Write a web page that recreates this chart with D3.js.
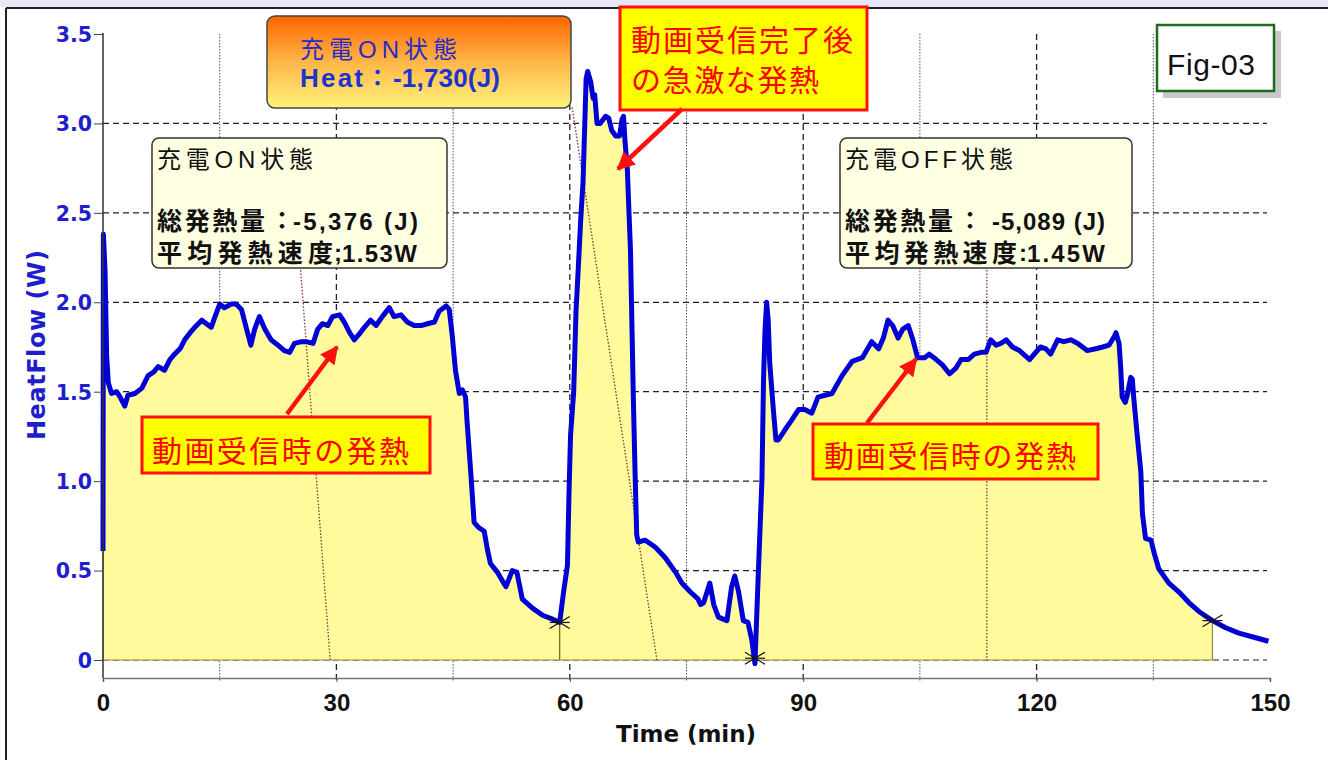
<!DOCTYPE html>
<html>
<head>
<meta charset="utf-8">
<script src="https://cdn.jsdelivr.net/npm/d3@7"></script>
<style>
  body { margin: 0; background: #fff; }
  svg { display: block; }
</style>
</head>
<body>
<svg id="chart" width="1328" height="760"></svg>
<script>
// ===== data =====
const timeMin = [
  0, 0.05, 0.26, 0.47, 0.68, 1.1, 1.75, 2.2, 2.8, 3.2, 4.1, 5.0, 5.8, 6.5, 7.1, 7.9, 8.6, 9.2, 9.9,
  10.5, 11.2, 11.8, 12.7, 13.3, 13.9, 14.4, 15.0, 15.6, 16.5, 17.1, 17.8, 18.4, 19.0, 19.5, 20.1,
  20.8, 21.6, 22.5, 23.3, 24.0, 24.6, 25.5, 26.1, 27.0, 27.6, 28.2, 28.9, 29.5, 30.4, 31.0, 31.7,
  32.3, 32.9, 33.6, 34.4, 35.1, 35.9, 36.8, 37.4, 38.3, 39.1, 40.0, 40.9, 41.7, 42.6, 43.2, 44.1,
  44.5, 44.9, 45.3, 45.8, 46.2, 46.6, 46.8, 47.3, 47.7, 48.3, 49.0, 49.4, 49.8, 50.7, 51.5, 51.8,
  52.6, 53.2, 53.9, 55.2, 56.5, 57.7, 58.7, 59.2, 59.7, 59.9, 60.1, 60.5, 60.8, 61.1, 61.4, 61.7,
  61.9, 62.1, 62.3, 62.7, 63.0, 63.2, 63.5, 63.9, 64.6, 65.0, 65.4, 65.9, 66.4, 66.7, 66.9, 67.1,
  67.4, 67.6, 67.8, 68.0, 68.2, 68.4, 68.6, 68.8, 69.7, 71.0, 72.3, 73.6, 74.4, 75.5, 76.5, 76.8,
  77.2, 78.0, 78.5, 79.1, 80.2, 80.8, 81.2, 81.7, 82.3, 82.9, 83.4, 83.8, 84.2, 84.7, 84.9, 85.1,
  85.3, 85.5, 85.7, 86.2, 86.5, 86.8, 87.7, 88.5, 89.4, 90.2, 91.1, 91.9, 92.8, 93.7, 95.0, 96.3,
  97.6, 98.8, 99.7, 100.3, 100.9, 101.5, 102.2, 102.8, 103.5, 104.1, 104.7, 105.6, 106.2, 107.1,
  107.9, 108.8, 109.6, 110.3, 111.2, 112.0, 112.9, 113.5, 114.1, 114.8, 115.4, 116.1, 116.9, 117.8,
  119.1, 119.7, 120.5, 121.2, 121.8, 122.7, 123.5, 124.4, 125.3, 126.5, 127.6, 128.5, 129.3, 130.0,
  130.2, 130.6, 130.8, 131.0, 131.4, 131.7, 132.1, 132.3, 132.5, 132.9, 133.4, 133.6, 134.0, 134.7,
  135.1, 135.7, 137.0, 138.3, 139.6, 140.9, 142.6, 144.3, 146.0, 147.7, 149.8
];
const heatW = [
  0.61, 2.38, 2.18, 1.70, 1.55, 1.49, 1.50, 1.47, 1.42, 1.48, 1.49, 1.52, 1.59, 1.61, 1.64, 1.62, 1.68, 1.71, 1.74,
  1.79, 1.83, 1.86, 1.90, 1.88, 1.86, 1.92, 1.99, 1.97, 1.99, 1.99, 1.96, 1.86, 1.76, 1.85, 1.92,
  1.85, 1.79, 1.76, 1.73, 1.72, 1.77, 1.78, 1.78, 1.77, 1.85, 1.88, 1.87, 1.92, 1.93, 1.89, 1.83,
  1.79, 1.82, 1.86, 1.90, 1.87, 1.92, 1.97, 1.92, 1.93, 1.89, 1.87, 1.87, 1.88, 1.89, 1.95, 1.98,
  1.96, 1.81, 1.62, 1.49, 1.51, 1.47, 1.33, 1.03, 0.77, 0.74, 0.72, 0.62, 0.54, 0.49, 0.43, 0.41,
  0.50, 0.49, 0.34, 0.29, 0.25, 0.23, 0.21, 0.38, 0.53, 0.94, 1.26, 1.50, 1.95, 2.20, 2.46, 2.67,
  2.96, 3.25, 3.29, 3.23, 3.14, 3.16, 3.00, 3.00, 3.04, 3.03, 2.96, 2.93, 2.93, 3.02, 3.04, 2.90,
  2.74, 2.51, 2.29, 1.84, 1.40, 1.03, 0.70, 0.66, 0.67, 0.63, 0.57, 0.49, 0.43, 0.38, 0.34, 0.31,
  0.32, 0.43, 0.31, 0.24, 0.22, 0.41, 0.47, 0.38, 0.22, 0.21, 0.11, -0.02, 0.45, 1.01, 1.57, 1.85,
  2.00, 1.90, 1.66, 1.38, 1.23, 1.23, 1.29, 1.34, 1.40, 1.40, 1.38, 1.47, 1.48, 1.49, 1.59, 1.67,
  1.69, 1.78, 1.74, 1.80, 1.90, 1.87, 1.80, 1.85, 1.87, 1.79, 1.69, 1.69, 1.71, 1.68,
  1.65, 1.60, 1.63, 1.68, 1.68, 1.71, 1.72, 1.72, 1.79, 1.76, 1.77, 1.79, 1.75, 1.73,
  1.68, 1.71, 1.75, 1.74, 1.71, 1.79, 1.78, 1.79, 1.77, 1.73, 1.74, 1.75, 1.76, 1.81,
  1.83, 1.77, 1.64, 1.47, 1.44, 1.49, 1.58, 1.57, 1.46, 1.27, 1.05, 0.82, 0.68, 0.67,
  0.60, 0.51, 0.43, 0.38, 0.32, 0.27, 0.22, 0.18, 0.15, 0.13, 0.105
];
const xTicks = [0, 30, 60, 90, 120, 150];
const xGrid = [15, 30, 45, 60, 75, 90, 105, 120, 135];
const yTicks = [0, 0.5, 1.0, 1.5, 2.0, 2.5, 3.0, 3.5];
const yTickLabels = ["0", "0.5", "1.0", "1.5", "2.0", "2.5", "3.0", "3.5"];
const yMinor = [0.25, 0.75, 1.25, 1.75, 2.25, 2.75, 3.25];
const fillEnd = 142.6;
const cursorT = [58.7, 83.8, 142.6];
const cursorW = [0.21, 0.01, 0.22];
// dotted baseline lines (start t, start W, end t, end W)
const baseT0 = [25.4, 60.3, 113.6];
const baseW0 = [2.18, 3.09, 2.18];
const baseT1 = [29.2, 71.2, 113.6];
const baseW1 = [0, 0, 0];

const data = timeMin.map((t, i) => ({ t: t, w: heatW[i] }));

const svg = d3.select("#chart");
const x = d3.scaleLinear().domain([0, 150]).range([103, 1270]);
const y = d3.scaleLinear().domain([0, 3.5]).range([660, 34]);
const axisY = 678;

// ===== frame =====
svg.append("rect").attr("x", 0).attr("y", 0).attr("width", 1328).attr("height", 7).attr("fill", "#e6e8f8");
svg.append("line").attr("x1", 6).attr("x2", 1328).attr("y1", 8).attr("y2", 8)
  .attr("stroke", "#222").attr("stroke-width", 2);
svg.append("line").attr("x1", 6).attr("x2", 6).attr("y1", 8).attr("y2", 760)
  .attr("stroke", "#222").attr("stroke-width", 2);

// ===== grid =====
const g = svg.append("g");
g.selectAll("line.hgrid")
  .data(yTicks.filter((d) => d < 3.5))
  .enter().append("line")
  .attr("x1", x(0)).attr("x2", x(150) - 3)
  .attr("y1", (d) => y(d)).attr("y2", (d) => y(d))
  .attr("stroke", "#222").attr("stroke-width", 1.2).attr("stroke-dasharray", "6,4");
g.selectAll("line.vgrid")
  .data(xGrid)
  .enter().append("line")
  .attr("x1", (d) => x(d)).attr("x2", (d) => x(d))
  .attr("y1", y(3.5)).attr("y2", axisY + 4)
  .attr("stroke", (d) => (d % 30 == 0 ? "#222" : "#555"))
  .attr("stroke-width", (d) => (d % 30 == 0 ? 1.3 : 1))
  .attr("stroke-dasharray", (d) => (d % 30 == 0 ? "6,4" : "1.5,1.5"));

// ===== area + curve =====
const area = d3.area().x((d) => x(d.t)).y0(y(0)).y1((d) => y(d.w));
g.append("path")
  .datum(data.filter((d) => d.t <= fillEnd))
  .attr("d", area)
  .attr("fill", "#fffb9c")
  .attr("stroke", "#9c8536")
  .attr("stroke-width", 1.2);
// segment boundary
g.append("line")
  .attr("x1", x(cursorT[0])).attr("x2", x(cursorT[0]))
  .attr("y1", y(0)).attr("y2", y(cursorW[0]))
  .attr("stroke", "#7a5a10").attr("stroke-width", 1.2);

// dotted baseline lines
g.selectAll("line.base")
  .data(baseT0)
  .enter().append("line")
  .attr("x1", (d) => x(d)).attr("y1", (d, i) => y(baseW0[i]))
  .attr("x2", (d, i) => x(baseT1[i])).attr("y2", (d, i) => y(baseW1[i]))
  .attr("stroke", "#8a3030").attr("stroke-width", 1.3).attr("stroke-dasharray", "1.5,1.8");

const line = d3.line().x((d) => x(d.t)).y((d) => y(d.w));
g.append("path")
  .datum(data)
  .attr("d", line)
  .attr("fill", "none")
  .attr("stroke", "#0000d6")
  .attr("stroke-width", 5)
  .attr("stroke-linejoin", "round");

// cursor markers
cursorT.forEach((t, i) => {
  const cx = x(t), cy = y(cursorW[i]);
  const m = g.append("g").attr("stroke", "#111").attr("stroke-width", 1.2);
  m.append("line").attr("x1", cx - 10).attr("y1", cy - 6).attr("x2", cx + 10).attr("y2", cy + 6);
  m.append("line").attr("x1", cx - 10).attr("y1", cy + 6).attr("x2", cx + 10).attr("y2", cy - 6);
  m.append("line").attr("x1", cx - 10).attr("y1", cy).attr("x2", cx + 10).attr("y2", cy);
});

// ===== axes =====
const yAxisG = svg.append("g").attr("transform", `translate(${x(0)},0)`);
yAxisG.call(d3.axisLeft(y).tickValues(yMinor).tickSize(6).tickFormat(""));
yAxisG.call(d3.axisLeft(y).tickValues(yTicks).tickSize(9).tickFormat((d, i) => yTickLabels[i]));
yAxisG.selectAll(".domain").remove();
yAxisG.selectAll(".tick line").attr("stroke", "#444");
yAxisG.selectAll("text")
  .attr("x", -11)
  .attr("dy", "0.36em")
  .style("font-family", "'DejaVu Sans'")
  .style("font-weight", "bold")
  .style("font-size", "20.5px")
  .attr("fill", "#1e1ecc");
svg.append("line")
  .attr("x1", x(0)).attr("x2", x(0)).attr("y1", y(3.5) - 1).attr("y2", axisY)
  .attr("stroke", "#333").attr("stroke-width", 1.5);

const xAxisG = svg.append("g").attr("transform", `translate(0,${axisY})`);
xAxisG.call(d3.axisBottom(x).tickValues(xTicks).tickSize(4));
xAxisG.select(".domain").attr("stroke", "#777").attr("stroke-width", 1.6);
xAxisG.selectAll(".tick line").attr("stroke", "#555");
xAxisG.selectAll("text")
  .attr("y", 33).attr("dy", null)
  .style("font-family", "'Liberation Sans', Arial")
  .style("font-weight", "bold")
  .style("font-size", "24px")
  .attr("fill", "#111");

svg.append("text")
  .attr("x", 686).attr("y", 742)
  .attr("text-anchor", "middle")
  .attr("textLength", 140)
  .style("font-family", "'DejaVu Sans'").style("font-weight", "bold").style("font-size", "23px")
  .attr("fill", "#111")
  .text("Time (min)");
svg.append("text")
  .attr("transform", "translate(45,345) rotate(-90)")
  .attr("text-anchor", "middle")
  .attr("textLength", 190)
  .style("font-family", "'DejaVu Sans'").style("font-weight", "bold").style("font-size", "24px")
  .attr("fill", "#1e1ecc")
  .text("HeatFlow (W)");

// ===== annotations =====
const jp = "'Liberation Sans', 'Noto Sans CJK JP', sans-serif";
const addText = (txt, px, py, size, opts = {}) => {
  const t = svg.append("text")
    .attr("x", px).attr("y", py)
    .style("font-family", opts.family || jp)
    .style("font-size", size + "px")
    .style("font-weight", opts.bold ? "bold" : "normal")
    .attr("fill", opts.color || "#111")
    .text(txt);
  if (opts.len) t.attr("textLength", opts.len);
  return t;
};

// orange box
const defs = svg.append("defs");
const grad = defs.append("linearGradient").attr("id", "orange").attr("x1", 0).attr("y1", 0).attr("x2", 0).attr("y2", 1);
grad.append("stop").attr("offset", "0%").attr("stop-color", "#ff6400");
grad.append("stop").attr("offset", "50%").attr("stop-color", "#ffb648");
grad.append("stop").attr("offset", "100%").attr("stop-color", "#fff37c");
svg.append("rect").attr("x", 267).attr("y", 16).attr("width", 304).attr("height", 92).attr("rx", 8)
  .attr("fill", "url(#orange)").attr("stroke", "#444").attr("stroke-width", 1.5);
addText("充電ON状態", 300, 58, 24, { color: "#2a2ac8", len: 157 });
addText("Heat", 300, 87, 26, { color: "#1e32d2", bold: true, len: 63 });
addText("：", 366, 86, 23, { color: "#1e32d2", bold: true });
addText("-1,730(J)", 393, 87, 26, { color: "#1e32d2", bold: true, len: 107 });

// cream boxes
const creamBox = (bx, by, bw, bh) =>
  svg.append("rect").attr("x", bx).attr("y", by).attr("width", bw).attr("height", bh).attr("rx", 7)
    .attr("fill", "#ffffe2").attr("stroke", "#333").attr("stroke-width", 1.5);
creamBox(152, 138, 295, 130);
addText("充電ON状態", 157, 168, 24, { len: 156 });
addText("総発熱量", 157, 230, 25, { bold: true, len: 108 });
addText("：", 270, 229, 24, { bold: true });
addText("-5,376 (J)", 293, 230, 24, { bold: true, len: 125 });
addText("平均発熱速度", 157, 262, 25, { bold: true, len: 176 });
addText(";", 334, 261, 24, { bold: true });
addText("1.53W", 342, 262, 24, { bold: true, len: 75 });

creamBox(840, 138, 292, 130);
addText("充電OFF状態", 845, 168, 24, { len: 168 });
addText("総発熱量", 845, 230, 25, { bold: true, len: 108 });
addText("：", 958, 229, 24, { bold: true });
addText("-5,089 (J)", 992, 230, 24, { bold: true, len: 113 });
addText("平均発熱速度", 845, 262, 25, { bold: true, len: 172 });
addText(":", 1019, 261, 24, { bold: true });
addText("1.45W", 1027, 262, 24, { bold: true, len: 78 });

// red-bordered yellow callouts
const callBox = (bx, by, bw, bh) =>
  svg.append("rect").attr("x", bx).attr("y", by).attr("width", bw).attr("height", bh)
    .attr("fill", "#ffff00").attr("stroke", "#ff1010").attr("stroke-width", 3);
defs.append("marker").attr("id", "arrow").attr("viewBox", "0 0 10 10").attr("refX", 9).attr("refY", 5)
  .attr("markerWidth", 4).attr("markerHeight", 4).attr("orient", "auto")
  .append("path").attr("d", "M0,0 L10,5 L0,10 z").attr("fill", "#ff1010");
const arrow = (x1, y1, x2, y2) =>
  svg.append("line").attr("x1", x1).attr("y1", y1).attr("x2", x2).attr("y2", y2)
    .attr("stroke", "#ff1010").attr("stroke-width", 4.5).attr("marker-end", "url(#arrow)");

callBox(620, 7, 247, 103);
addText("動画受信完了後", 631, 51, 30, { color: "#ff0000", len: 222 });
addText("の急激な発熱", 631, 91, 30, { color: "#ff0000", len: 188 });
arrow(682, 109, 618, 169);

callBox(142, 417, 288, 56);
addText("動画受信時の発熱", 152, 462, 30, { color: "#ff0000", len: 257 });
arrow(287, 414, 337, 347);

callBox(813, 424, 285, 55);
addText("動画受信時の発熱", 824, 467, 30, { color: "#ff0000", len: 252 });
arrow(867, 423, 916, 359);

// Fig-03 label
svg.append("rect").attr("x", 1163).attr("y", 31).attr("width", 118).attr("height", 67).attr("fill", "#c8c8c8");
svg.append("rect").attr("x", 1157).attr("y", 25).attr("width", 117).attr("height", 66)
  .attr("fill", "#fff").attr("stroke", "#1d6b1d").attr("stroke-width", 2.5);
addText("Fig-03", 1167, 75, 30, { family: "'Liberation Sans', Arial", len: 88 });
</script>
</body>
</html>
